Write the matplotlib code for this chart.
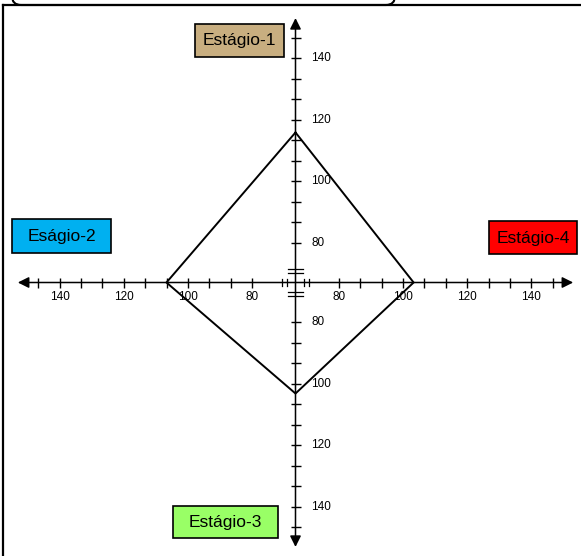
import numpy as np
import matplotlib
matplotlib.use('Agg')
import matplotlib.pyplot as plt
from matplotlib.patches import Rectangle, FancyBboxPatch

plt.rcParams['font.family'] = ['Liberation Sans', 'DejaVu Sans']

# ============================================================
# DATA
# ============================================================
stages = ['Estágio-1', 'Eságio-2', 'Estágio-3', 'Estágio-4']
stage_colors = ['#C8AE80', '#00B0F0', '#99FF66', '#FF0000']

# diamond vertices: value on each half-axis (up, left, down, right)
val_up, val_left, val_down, val_right = 115.8, 106.7, 103.1, 103.3

tick_values = 80 + np.arange(11) * 20 / 3   # minor ticks every 6.67
label_values = [80, 100, 120, 140]
axis_max = 153

# ============================================================
# SCALE (axis origin sits at a broken value, not zero)
# ============================================================
W, H = 581, 556
CX, CY = 295.5, 282.5          # pixel position of the axes crossing
SX, SY = 3.21, 3.075           # pixels per unit
V0X, V0Y = 66.5, 67.0          # value at the crossing

def dx(v):
    return v - V0X

def dy(v):
    return v - V0Y

fig = plt.figure(figsize=(W / 100, H / 100), dpi=100)
ax = fig.add_axes([0, 0, 1, 1])
ax.set_xlim(-CX / SX, (W - CX) / SX)
ax.set_ylim(-(H - CY) / SY, CY / SY)
ax.axis('off')

# axes with arrows both ends
arrow = dict(arrowstyle='<|-|>,head_length=0.6,head_width=0.3', color='black',
             lw=1.1, shrinkA=0, shrinkB=0, mutation_scale=11)
ax.annotate('', xy=(-dx(axis_max), 0), xytext=(dx(axis_max), 0), arrowprops=arrow)
ax.annotate('', xy=(0, dy(axis_max)), xytext=(0, -dy(axis_max)), arrowprops=arrow)

# ticks
tx = np.concatenate([dx(tick_values), -dx(tick_values)])
ax.plot(tx, np.zeros_like(tx), ls='none', marker='|', ms=6.5, mew=1.0, color='black')
ty = np.concatenate([dy(tick_values), -dy(tick_values)])
ax.plot(np.zeros_like(ty), ty, ls='none', marker='_', ms=7.5, mew=1.0, color='black')

# axis break marks
for s in (2.8, 4.1):
    for sign in (-1, 1):
        ax.plot([sign * s, sign * s], [-1.0, 1.0], color='black', lw=0.9)
for s in (3.0, 4.3):
    for sign in (-1, 1):
        ax.plot([-2.2, 2.2], [sign * s, sign * s], color='black', lw=0.9)

# tick labels
for v in label_values:
    ax.text(dx(v), -14 / SY, str(v), ha='center', va='center', fontsize=8.5)
    ax.text(-dx(v), -14 / SY, str(v), ha='center', va='center', fontsize=8.5)
    ax.text(16 / SX, dy(v), str(v), ha='left', va='center', fontsize=8.5)
    ax.text(16 / SX, -dy(v), str(v), ha='left', va='center', fontsize=8.5)

# diamond
px = [0, dx(val_right), 0, -dx(val_left), 0]
py = [dy(val_up), 0, -dy(val_down), 0, dy(val_up)]
ax.plot(px, py, color='black', lw=1.4, solid_joinstyle='miter')

# ============================================================
# OVERLAY: frame and stage boxes (pixel coordinates)
# ============================================================
ov = fig.add_axes([0, 0, 1, 1], facecolor='none')
ov.set_xlim(0, W)
ov.set_ylim(H, 0)
ov.axis('off')

ov.add_patch(FancyBboxPatch((12, -40), 383, 45, boxstyle='round,pad=0,rounding_size=9',
                            fc='white', ec='black', lw=1.5))
ov.plot([3, W], [5, 5], color='black', lw=1.6)
ov.plot([3, 3], [5, H], color='black', lw=1.6)

boxes = [(195, 24, 89, 33), (12, 219, 99, 34), (173, 506, 105, 32), (489, 221, 88, 33)]
for (x, y, w, h), name, col in zip(boxes, stages, stage_colors):
    ov.add_patch(Rectangle((x, y), w, h, fc=col, ec='black', lw=1.2))
    ov.text(x + w / 2, y + h / 2 + 0.5, name, ha='center', va='center', fontsize=12.5)

fig.savefig('out.png', dpi=100)
plt.close(fig)
